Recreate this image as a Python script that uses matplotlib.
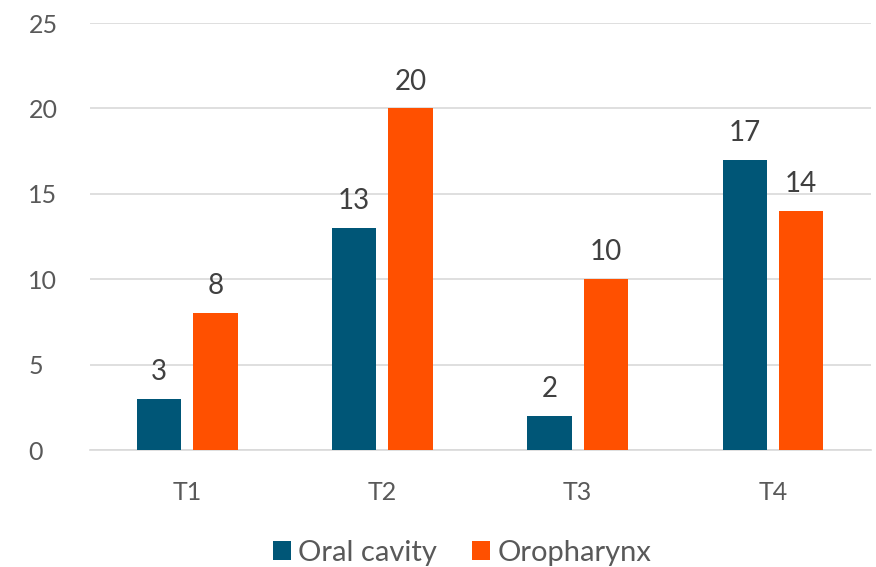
import matplotlib.pyplot as plt
import numpy as np

plt.rcParams['font.family'] = ['Lato', 'DejaVu Sans']

categories = ["T1", "T2", "T3", "T4"]
oral_cavity = [3, 13, 2, 17]
oropharynx = [8, 20, 10, 14]

blue = "#005677"
orange = "#FF5000"
grid_col = "#D9D9D9"
text_col = "#595959"

fig = plt.figure(figsize=(8.76, 5.67), dpi=100)
ax = fig.add_axes([0.1022, 0.2063, 0.8916, 0.7531])

x = np.arange(len(categories))
w = 0.227
off = 0.1445
b1 = ax.bar(x - off, oral_cavity, w, color=blue, label="Oral cavity", zorder=3)
b2 = ax.bar(x + off, oropharynx, w, color=orange, label="Oropharynx", zorder=3)

for bars in (b1, b2):
    ax.bar_label(bars, padding=10, fontsize=20, color="#404040")

ax.set_xlim(-0.5, len(categories) - 0.5)
ax.set_ylim(0, 25)
ax.set_yticks(range(0, 26, 5))
ax.set_xticks(x)
ax.set_xticklabels(categories)
ax.yaxis.grid(True, color=grid_col, linewidth=1.2, zorder=0)
ax.set_axisbelow(True)
for s in ("top", "right", "left"):
    ax.spines[s].set_visible(False)
ax.spines["bottom"].set_color(grid_col)
ax.spines["bottom"].set_linewidth(1.2)
ax.tick_params(axis="both", length=0, labelsize=18, colors=text_col)
ax.tick_params(axis="y", pad=44)
ax.tick_params(axis="x", pad=22)
for lbl in ax.get_yticklabels():
    lbl.set_horizontalalignment("left")

ax.legend(loc="center", bbox_to_anchor=(0.477, -0.24), ncol=2, frameon=False,
          fontsize=21, handlelength=0.62, handleheight=0.62, handletextpad=0.25,
          columnspacing=1.2, labelcolor=text_col)

fig.savefig("out.png", dpi=100)
